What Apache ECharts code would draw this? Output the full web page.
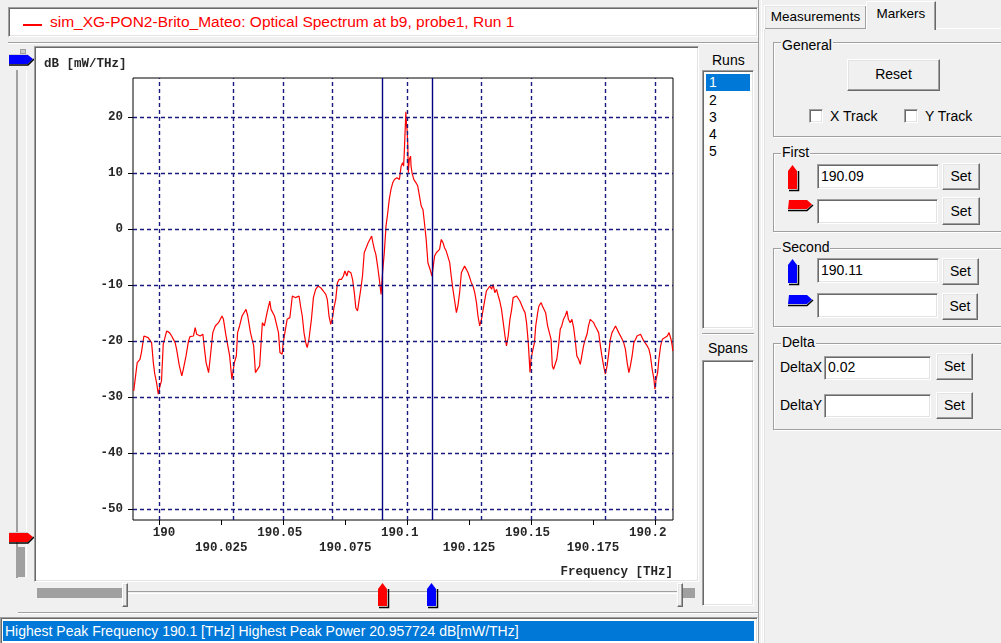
<!DOCTYPE html>
<html>
<head>
<meta charset="utf-8">
<script src="https://cdn.jsdelivr.net/npm/echarts@6/dist/echarts.min.js"></script>
<style>
body { margin:0; width:1001px; height:643px; overflow:hidden; background:#f0f0f0; font-family:'Liberation Sans', Arial, sans-serif; position:relative; color:#000; }
div, span { position:absolute; box-sizing:border-box; }
.sunken { background:#fff; border:1px solid; border-color:#a0a0a0 #fff #fff #a0a0a0; box-shadow: inset 1px 1px 0 #696969, inset -1px -1px 0 #e3e3e3; }
.raised { background:#f0f0f0; border:1px solid; border-color:#fff #696969 #696969 #fff; box-shadow: inset -1px -1px 0 #a0a0a0, inset 1px 1px 0 #e3e3e3; text-align:center; font-size:14px; }
.group { border:1px solid #a0a0a0; box-shadow: inset 1px 1px 0 #fff, 1px 1px 0 #fff; }
.lbl { font-size:14px; white-space:nowrap; background:#f0f0f0; padding:0 1px; line-height:16px; }
.hsep { height:2px; border-top:1px solid #a0a0a0; border-bottom:1px solid #fff; }
.box { font-size:14px; line-height:22px; padding-left:3px; white-space:nowrap; }
svg { position:absolute; overflow:visible; }
</style>
</head>
<body>
<!-- title -->
<div class="sunken" style="left:8px;top:7px;width:750px;height:30px;">
  <span style="left:14px;top:16px;width:19px;height:2px;background:#f00;"></span>
  <span style="left:41px;top:5px;font-size:15.5px;color:#f00;white-space:nowrap;line-height:18px;">sim_XG-PON2-Brito_Mateo: Optical Spectrum at b9, probe1, Run 1</span>
</div>
<div class="hsep" style="left:8px;top:42px;width:750px;"></div>

<!-- left vertical slider -->
<div style="left:20px;top:49px;width:6px;height:5px;background:#c8c8c8;border:1px solid #a0a0a0;"></div>
<div style="left:16px;top:70px;width:11px;height:508px;border-left:2px solid #a0a0a0;border-right:1px solid #fff;"></div>
<div style="left:18px;top:547px;width:7px;height:30px;background:#a0a0a0;"></div>
<svg style="left:9px;top:54px;" width="26" height="14"><polygon points="0,1 19,1 24,5 19,10 0,10" fill="#0000ff"/><polyline points="0,11 19,11 25,5" fill="none" stroke="#000" stroke-width="1.5"/><line x1="0" y1="0.5" x2="19" y2="0.5" stroke="#d0d0d0"/></svg>
<svg style="left:9px;top:532px;" width="26" height="14"><polygon points="0,1 19,1 24,5 19,10 0,10" fill="#ff0000"/><polyline points="0,11 19,11 25,5" fill="none" stroke="#000" stroke-width="1.5"/><line x1="0" y1="0.5" x2="19" y2="0.5" stroke="#d0d0d0"/></svg>

<!-- chart panel -->
<div class="sunken" style="left:34px;top:46px;width:665px;height:536px;"></div>
<div id="chart" style="left:36px;top:48px;width:661px;height:532px;"></div>

<!-- bottom slider -->
<div style="left:37px;top:588px;width:86px;height:10px;background:#a0a0a0;"></div>
<div style="left:128px;top:591px;width:550px;height:3px;border-top:1px solid #a0a0a0;border-bottom:1px solid #fff;"></div>
<div class="raised" style="left:122px;top:583px;width:6px;height:24px;"></div>
<div class="raised" style="left:677px;top:583px;width:6px;height:24px;"></div>
<div style="left:683px;top:588px;width:12px;height:10px;background:#a0a0a0;"></div>
<svg id="mk1" style="left:377px;top:583px;" width="12" height="26"><polygon points="0,6 4.5,0 9,6 9,23 0,23" fill="#ff0000"/><polyline points="1,24.5 10.5,24.5 10.5,6" fill="none" stroke="#000" stroke-width="1.5"/></svg>
<svg id="mk2" style="left:426px;top:583px;" width="12" height="26"><polygon points="0,6 4.5,0 9,6 9,23 0,23" fill="#0000ff"/><polyline points="1,24.5 10.5,24.5 10.5,6" fill="none" stroke="#000" stroke-width="1.5"/></svg>
<div class="hsep" style="left:18px;top:612px;width:740px;"></div>

<!-- status -->
<div class="sunken" style="left:0px;top:617px;width:758px;height:30px;">
  <span style="left:2px;top:3px;width:751px;height:20px;background:#0078d7;color:#fff;font-size:14px;line-height:20px;padding-left:2px;white-space:nowrap;">Highest Peak Frequency 190.1 [THz] Highest Peak Power 20.957724 dB[mW/THz]</span>
</div>

<!-- runs / spans -->
<span class="lbl" style="left:711px;top:52px;background:none;">Runs</span>
<div class="sunken" style="left:702px;top:70px;width:52px;height:259px;">
  <span style="left:3px;top:3px;width:44px;height:17px;background:#0078d7;color:#fff;font-size:14px;line-height:17px;padding-left:3px;">1</span>
  <span style="left:3px;top:21px;font-size:14px;line-height:17px;padding-left:3px;">2</span>
  <span style="left:3px;top:38px;font-size:14px;line-height:17px;padding-left:3px;">3</span>
  <span style="left:3px;top:55px;font-size:14px;line-height:17px;padding-left:3px;">4</span>
  <span style="left:3px;top:72px;font-size:14px;line-height:17px;padding-left:3px;">5</span>
</div>
<div class="hsep" style="left:702px;top:333px;width:52px;"></div>
<span class="lbl" style="left:707px;top:340px;background:none;">Spans</span>
<div class="sunken" style="left:702px;top:360px;width:52px;height:246px;"></div>

<!-- splitter -->
<div style="left:758px;top:0px;width:4px;height:643px;border-left:1px solid #a0a0a0;border-right:1px solid #fff;"></div>

<!-- right pane -->
<div style="left:763px;top:28px;width:260px;height:640px;border-left:1px solid #fff;border-top:1px solid #fff;box-shadow:inset 1px 0 0 #e3e3e3;"></div>
<div class="raised" style="left:764px;top:5px;width:103px;height:24px;border-bottom:none;font-size:13.5px;line-height:22px;">Measurements</div>
<div class="raised" style="left:866px;top:1px;width:70px;height:29px;border-bottom:none;font-size:13.5px;line-height:24px;box-shadow:inset -1px 0 0 #a0a0a0;">Markers</div>

<div class="group" style="left:773px;top:42px;width:240px;height:95px;"></div>
<span class="lbl" style="left:781px;top:37px;">General</span>
<div class="raised" style="left:847px;top:59px;width:93px;height:32px;line-height:29px;">Reset</div>
<div class="sunken" style="left:809px;top:109px;width:14px;height:14px;"></div>
<span class="lbl" style="left:829px;top:108px;background:none;">X Track</span>
<div class="sunken" style="left:904px;top:109px;width:14px;height:14px;"></div>
<span class="lbl" style="left:924px;top:108px;background:none;">Y Track</span>

<div class="group" style="left:773px;top:153px;width:240px;height:79px;"></div>
<span class="lbl" style="left:781px;top:144px;">First</span>
<svg style="left:788px;top:165px;" width="12" height="27"><polygon points="0,6 4.5,0 9,6 9,24 0,24" fill="#ff0000"/><polyline points="1,25.5 10.5,25.5 10.5,6" fill="none" stroke="#000" stroke-width="1.5"/></svg>
<div class="sunken box" style="left:817px;top:164px;width:122px;height:25px;">190.09</div>
<div class="raised" style="left:942px;top:163px;width:38px;height:27px;line-height:25px;">Set</div>
<svg style="left:788px;top:200px;" width="26" height="13"><polygon points="1,0 19,0 24,4.5 19,9 0,9" fill="#ff0000"/><polyline points="0,10.5 19,10.5 25,5" fill="none" stroke="#000" stroke-width="1.5"/></svg>
<div class="sunken box" style="left:817px;top:199px;width:121px;height:25px;"></div>
<div class="raised" style="left:942px;top:197px;width:38px;height:28px;line-height:26px;">Set</div>

<div class="group" style="left:773px;top:248px;width:240px;height:79px;"></div>
<span class="lbl" style="left:781px;top:239px;">Second</span>
<svg style="left:788px;top:259px;" width="12" height="27"><polygon points="0,6 4.5,0 9,6 9,24 0,24" fill="#0000ff"/><polyline points="1,25.5 10.5,25.5 10.5,6" fill="none" stroke="#000" stroke-width="1.5"/></svg>
<div class="sunken box" style="left:817px;top:258px;width:122px;height:25px;">190.11</div>
<div class="raised" style="left:942px;top:258px;width:37px;height:27px;line-height:25px;">Set</div>
<svg style="left:788px;top:295px;" width="26" height="13"><polygon points="1,0 19,0 24,4.5 19,9 0,9" fill="#0000ff"/><polyline points="0,10.5 19,10.5 25,5" fill="none" stroke="#000" stroke-width="1.5"/></svg>
<div class="sunken box" style="left:817px;top:293px;width:121px;height:25px;"></div>
<div class="raised" style="left:942px;top:293px;width:36px;height:27px;line-height:25px;">Set</div>

<div class="group" style="left:773px;top:343px;width:240px;height:87px;"></div>
<span class="lbl" style="left:781px;top:334px;">Delta</span>
<span class="lbl" style="left:779px;top:359px;background:none;">DeltaX</span>
<div class="sunken box" style="left:824px;top:356px;width:107px;height:24px;line-height:21px;">0.02</div>
<div class="raised" style="left:936px;top:353px;width:37px;height:27px;line-height:25px;">Set</div>
<span class="lbl" style="left:779px;top:397px;background:none;">DeltaY</span>
<div class="sunken box" style="left:824px;top:394px;width:107px;height:24px;"></div>
<div class="raised" style="left:936px;top:392px;width:37px;height:27px;line-height:25px;">Set</div>

<script>
// spectrum: frequency [THz] / power [dB(mW/THz)]
const freq = [
  189.9897,189.9911,189.9922,189.9928,189.9938,189.9946,189.9955,189.9962,189.9969,189.9976,
  189.9982,189.9989,189.9996,190.0003,190.0009,190.0016,190.0023,190.0030,190.0041,190.0050,
  190.0064,190.0070,190.0081,190.0091,190.0097,190.0108,190.0118,190.0124,190.0138,190.0145,
  190.0151,190.0158,190.0165,190.0176,190.0181,190.0189,190.0199,190.0205,190.0216,190.0226,
  190.0239,190.0253,190.0259,190.0269,190.0276,190.0284,190.0293,190.0303,190.0311,190.0316,
  190.0324,190.0334,190.0341,190.0350,190.0357,190.0368,190.0376,190.0381,190.0388,190.0395,
  190.0405,190.0416,190.0424,190.0435,190.0446,190.0451,190.0459,190.0465,190.0473,190.0481,
  190.0487,190.0496,190.0500,190.0505,190.0516,190.0527,190.0537,190.0543,190.0550,190.0557,
  190.0564,190.0570,190.0577,190.0584,190.0591,190.0597,190.0604,190.0614,190.0622,190.0631,
  190.0641,190.0651,190.0662,190.0672,190.0678,190.0685,190.0692,190.0699,190.0705,190.0712,
  190.0719,190.0726,190.0735,190.0743,190.0749,190.0757,190.0762,190.0773,190.0780,190.0787,
  190.0793,190.0800,190.0807,190.0814,190.0820,190.0827,190.0834,190.0843,190.0851,190.0857,
  190.0862,190.0868,190.0874,190.0881,190.0888,190.0895,
  190.0901,190.0908,190.0915,190.0922,190.0928,190.0935,190.0942,190.0949,190.0959,190.0969,
  190.0976,190.0982,190.0986,190.0989,190.0995,190.0998,190.1000,190.1003,190.1005,190.1009,
  190.1014,190.1016,190.1020,190.1027,190.1036,190.1043,190.1050,190.1057,190.1064,190.1070,
  190.1077,190.1084,190.1091,190.1095,190.1100,190.1104,190.1111,190.1118,190.1124,190.1131,
  190.1138,190.1145,190.1151,190.1158,190.1165,190.1172,190.1178,190.1185,190.1192,190.1199,
  190.1205,190.1212,190.1219,190.1226,190.1232,190.1239,190.1246,190.1253,190.1259,190.1266,
  190.1273,190.1280,190.1286,190.1293,190.1300,190.1307,190.1314,190.1320,190.1327,190.1334,
  190.1341,190.1347,190.1354,190.1361,190.1368,190.1374,190.1381,190.1388,190.1395,190.1401,
  190.1408,190.1415,190.1422,190.1428,190.1435,190.1442,190.1449,190.1455,190.1462,190.1469,
  190.1476,190.1482,190.1489,190.1496,190.1500,190.1505,190.1514,190.1519,190.1527,190.1532,
  190.1541,190.1546,190.1554,190.1559,190.1567,190.1574,190.1581,190.1586,190.1591,190.1597,
  190.1604,190.1611,190.1618,190.1624,190.1631,190.1638,190.1645,190.1651,190.1658,190.1665,
  190.1672,190.1678,190.1685,190.1692,190.1699,190.1705,190.1712,190.1719,190.1726,190.1732,
  190.1739,190.1746,190.1753,190.1759,190.1766,190.1773,190.1780,190.1786,190.1793,190.1800,
  190.1807,190.1814,190.1820,190.1827,190.1834,190.1841,190.1847,190.1854,190.1861,190.1868,
  190.1874,190.1881,190.1888,190.1895,190.1901,190.1908,190.1915,190.1922,190.1928,190.1935,
  190.1942,190.1949,190.1955,190.1962,190.1969,190.1976,190.1982,190.1989,190.1996,190.2000,
  190.2005,190.2011,190.2016,190.2023,190.2030,190.2041,190.2050,190.2057,190.2061,190.2065,
  190.2070,190.2072
];
const power = [
  -28.93,-23.87,-23.27,-22.08,-19.11,-18.99,-19.40,-19.58,-20.30,-23.87,
  -25.95,-27.44,-29.52,-28.04,-27.14,-20.60,-20.30,-18.21,-18.51,-19.11,
  -20.30,-21.49,-24.46,-26.25,-25.06,-22.68,-20.00,-19.23,-19.11,-17.62,
  -18.81,-18.51,-19.11,-18.81,-20.89,-23.87,-25.65,-23.27,-18.51,-17.32,
  -16.73,-15.54,-16.13,-18.99,-18.81,-22.68,-26.85,-23.87,-22.68,-18.51,
  -17.32,-15.54,-15.24,-14.35,-15.54,-18.51,-18.81,-20.89,-25.65,-25.95,
  -24.46,-16.73,-17.32,-14.94,-12.86,-14.35,-14.05,-15.54,-15.54,-18.51,
  -22.08,-22.38,-20.30,-20.30,-16.13,-15.83,-11.96,-11.67,-12.26,-12.26,
  -11.96,-13.75,-15.54,-18.51,-20.30,-21.19,-19.70,-16.13,-12.26,-10.77,
  -10.18,-10.48,-11.07,-11.67,-12.56,-15.54,-17.02,-15.83,-14.05,-12.56,
  -9.58,-8.99,-8.99,-8.39,-7.50,-8.39,-7.50,-7.80,-8.99,-11.37,
  -14.05,-14.64,-12.56,-10.48,-8.39,-4.23,-3.93,-2.44,-2.14,-1.25,
  -2.44,-3.63,-4.52,-6.61,-8.99,-11.67,
  -7.80,-4.23,0.54,2.92,5.30,7.08,8.27,8.87,9.17,8.87,
  11.25,11.85,11.25,13.93,20.96,18.39,17.80,14.82,10.06,12.44,
  13.04,11.25,10.06,8.87,8.27,7.68,5.89,4.11,3.51,1.13,
  -1.85,-6.01,-6.31,-7.50,-8.39,-7.20,-4.82,-4.23,-4.23,-3.63,
  -1.85,-2.44,-3.33,-3.93,-4.23,-6.01,-8.39,-10.77,-12.86,-14.94,
  -13.75,-11.37,-7.80,-7.80,-6.61,-7.20,-7.80,-8.69,-9.58,-10.18,
  -11.37,-13.15,-15.54,-17.32,-16.13,-14.35,-12.56,-11.07,-10.77,-10.18,
  -10.77,-9.88,-11.37,-10.77,-11.96,-12.86,-14.35,-16.73,-19.11,-20.89,
  -19.11,-16.13,-14.35,-12.26,-11.96,-11.96,-11.67,-12.86,-13.15,-14.35,
  -14.94,-16.73,-20.30,-25.65,-23.27,-22.08,-20.30,-17.32,-14.94,-13.75,
  -13.15,-13.75,-13.75,-14.94,-17.32,-17.32,-19.70,-24.46,-25.06,-25.06,
  -23.27,-20.89,-17.92,-17.32,-16.13,-15.54,-14.64,-16.13,-16.73,-16.13,
  -17.62,-19.70,-22.68,-23.27,-24.17,-22.68,-20.89,-19.70,-18.81,-17.32,
  -16.13,-15.83,-16.73,-17.32,-17.62,-18.51,-20.89,-22.68,-24.46,-25.95,
  -24.46,-22.08,-19.70,-18.51,-17.92,-17.32,-17.62,-18.51,-18.21,-19.70,
  -20.30,-21.49,-23.87,-25.65,-24.46,-22.68,-20.30,-19.70,-19.11,-19.11,
  -18.81,-19.11,-20.00,-19.70,-20.89,-21.49,-22.68,-25.06,-26.85,-28.63,
  -26.85,-25.65,-23.27,-20.89,-19.70,-19.40,-19.11,-18.51,-18.51,-19.70,
  -20.89,-21.79
];
const xTicks = [190, 190.025, 190.05, 190.075, 190.1, 190.125, 190.15, 190.175, 190.2];
const xLabels = ['190', '190.025', '190.05', '190.075', '190.1', '190.125', '190.15', '190.175', '190.2'];
const yTicks = [-50, -40, -30, -20, -10, 0, 10, 20];
const markers = [190.09, 190.11];

const mono = "'Liberation Mono', 'Courier New', monospace";
const navy = '#1a1a80';
const txt = '#262626';

var chartDom = document.getElementById('chart');
var myChart = echarts.init(chartDom, null, { renderer: 'canvas' });
var option = {
  animation: false,
  backgroundColor: '#fff',
  grid: { left: 97, top: 30, width: 540, height: 442, show: true, borderColor: '#000', borderWidth: 1, backgroundColor: '#fff' },
  xAxis: {
    type: 'value', min: 189.9894, max: 190.2073,
    axisLine: { show: false, onZero: false },
    splitLine: { show: false },
    axisTick: { show: true, customValues: xTicks, length: 5, lineStyle: { color: '#000' } },
    axisLabel: {
      customValues: xTicks, margin: 6, color: txt, fontFamily: mono, fontSize: 12.5, fontWeight: 'bold', lineHeight: 14.5,
      formatter: function (v) {
        const i = xTicks.findIndex(t => Math.abs(t - v) < 1e-7)
        if (i < 0) return ''
        if (i % 2) return '\n{b|' + xLabels[i] + '}'
        return (i === 0 ? '{f|' : '{a|') + xLabels[i] + '}'
      },
      rich: {
        a: { width: 52, align: 'left', fontFamily: mono, fontSize: 12.5, fontWeight: 'bold', lineHeight: 14.5, color: txt },
        f: { width: 13, align: 'left', fontFamily: mono, fontSize: 12.5, fontWeight: 'bold', lineHeight: 14.5, color: txt },
        b: { fontFamily: mono, fontSize: 12.5, fontWeight: 'bold', lineHeight: 14.5, color: txt }
      }
    }
  },
  yAxis: {
    type: 'value', min: -52, max: 27,
    axisLine: { show: false, onZero: false },
    splitLine: { show: false },
    axisTick: { show: true, customValues: yTicks, length: 5, lineStyle: { color: '#000' } },
    axisLabel: { customValues: yTicks, margin: 10, color: txt, fontFamily: mono, fontSize: 12.5, fontWeight: 'bold' }
  },
  graphic: [
    { type: 'text', left: 8, top: 9, style: { text: 'dB [mW/THz]', font: 'bold 12.5px ' + mono, fill: txt } },
    { type: 'text', right: 24, top: 517, style: { text: 'Frequency [THz]', font: 'bold 12.5px ' + mono, fill: txt } }
  ],
  series: [
    {
      name: 'grid', type: 'line', data: [], z: 1, silent: true,
      markLine: {
        silent: true, symbol: ['none', 'none'], label: { show: false },
        lineStyle: { type: [4, 3], color: navy, width: 1.4 },
        data: yTicks.map(v => ({ yAxis: v })).concat(xTicks.map(v => ({ xAxis: v })))
      }
    },
    {
      name: 'Run 1', type: 'line', z: 3,
      data: freq.map((f, i) => [f, power[i]]),
      showSymbol: false, symbol: 'none',
      lineStyle: { color: '#ff0000', width: 1.2 }
    },
    {
      name: 'markers', type: 'line', data: [], z: 4, silent: true,
      markLine: {
        silent: true, symbol: ['none', 'none'], label: { show: false },
        lineStyle: { type: 'solid', color: '#000080', width: 1.4 },
        data: markers.map(v => ({ xAxis: v }))
      }
    }
  ]
}
option && myChart.setOption(option)

// put the slider markers under the marker lines
const ids = ['mk1', 'mk2']
markers.forEach((m, i) => {
  const px = myChart.convertToPixel({ gridIndex: 0 }, [m, 0])[0]
  document.getElementById(ids[i]).style.left = (36 + px - 4.5) + 'px'
})
</script>
</body>
</html>
